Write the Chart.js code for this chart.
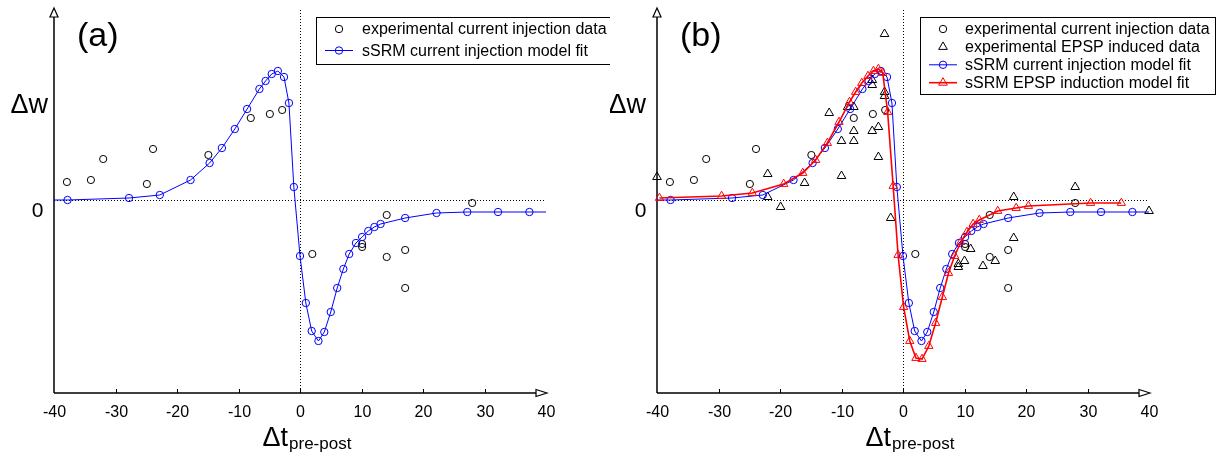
<!doctype html>
<html lang="en">
<head>
<meta charset="utf-8">
<title>sSRM model fits</title>
<style>
  html, body { margin: 0; padding: 0; background: #fff; overflow: hidden; }
  .panel { position: absolute; top: 0; }
</style>
</head>
<body>
<canvas id="chartA" class="panel" width="610" height="455" style="left:0px"></canvas>
<canvas id="chartB" class="panel" width="611" height="455" style="left:610px"></canvas>

<script src="https://cdn.jsdelivr.net/npm/chart.js"></script>
<script>
// ---- data ----
const xTicks = [-40, -30, -20, -10, 0, 10, 20, 30, 40];

// sSRM current injection model fit (first/last entries are line ends without marker)
const blueT = [-40, -37.8, -27.8, -22.8, -17.8, -14.7, -12.7, -10.6, -8.6, -6.6, -5.6, -4.6, -3.6, -2.6, -1.8, -1.0,
               0, 0.95, 1.9, 3.0, 3.95, 5.0, 6.05, 7.05, 8.0, 9.1, 10.1, 11.1, 12.1, 13.1, 17.1, 22.2, 27.2, 32.2, 37.3, 40];
const blueW = [0.00, 0.00, 0.02, 0.05, 0.20, 0.37, 0.52, 0.71, 0.91, 1.11, 1.19, 1.26, 1.29, 1.23, 0.97, 0.13,
               -0.56, -1.03, -1.31, -1.41, -1.32, -1.12, -0.88, -0.69, -0.54, -0.43, -0.37, -0.31, -0.27, -0.24, -0.18, -0.13, -0.12, -0.12, -0.12, -0.12];

// sSRM EPSP induction model fit
const redT = [-39.6, -29.5, -24.5, -19.4, -16.3, -14.2, -12.3, -10.4, -8.7, -7.7, -6.7, -5.7, -4.8, -4.0, -3.3, -2.5, -1.6, -0.8,
              0.1, 1.1, 2.1, 3.1, 4.2, 5.3, 6.4, 7.4, 8.4, 9.4, 10.4, 11.4, 12.4, 15.4, 18.4, 20.4, 30.5, 35.5];
const redW = [0.02, 0.04, 0.07, 0.16, 0.27, 0.40, 0.57, 0.78, 0.98, 1.08, 1.17, 1.24, 1.29, 1.31, 1.27, 0.88, 0.14, -0.55,
              -1.07, -1.41, -1.58, -1.59, -1.46, -1.23, -0.97, -0.73, -0.56, -0.42, -0.32, -0.24, -0.20, -0.11, -0.08, -0.06, -0.03, -0.03];

// experimental current injection data
const circT = [-37.9, -34.0, -32.0, -24.9, -23.9, -14.9, -8.0, -4.9, -2.9, 2.0, 10.1, 10.1, 14.1, 14.1, 17.1, 17.1, 28.0];
const circW = [0.18, 0.20, 0.41, 0.16, 0.51, 0.45, 0.82, 0.86, 0.90, -0.54, -0.44, -0.47, -0.15, -0.57, -0.50, -0.88, -0.03];

// experimental EPSP induced data
const triT = [-40, -22.0, -22.0, -19.9, -16.0, -12.0, -10.0, -10.0, -9.0, -8.0, -8.0, -8.0, -5.0, -5.0, -5.0, -4.0, -4.0,
              -3.0, -3.0, -3.0, -2.0, 9.0, 9.0, 10.0, 11.0, 13.0, 15.0, 18.0, 18.0, 28.0, 40.0];
const triW = [0.23, 0.26, 0.03, -0.07, 0.17, 0.87, 0.59, 0.24, 0.93, 0.93, 0.69, 0.59, 1.20, 1.15, 0.69, 0.73, 0.43,
              1.66, 1.08, 1.04, -0.18, -0.64, -0.67, -0.61, -0.49, -0.66, -0.61, -0.38, 0.03, 0.13, -0.11];

const legendLabels = ['experimental current injection data', 'experimental EPSP induced data',
                      'sSRM current injection model fit', 'sSRM EPSP induction model fit'];

const FONT = '"Liberation Sans", Arial, Helvetica, sans-serif';
const BLUE = '#0000ff', RED = '#ff0000';

function pts(xs, ys) { return xs.map((x, i) => ({ x: x, y: ys[i] })); }

// datasets
const circleSet = {
  label: legendLabels[0], data: pts(circT, circW), pointStyle: 'circle', pointRadius: 3.6,
  pointBorderColor: '#000', pointBackgroundColor: 'rgba(0,0,0,0)', pointBorderWidth: 1, order: 4, clip: false
};
const triangleSet = {
  label: legendLabels[1], data: pts(triT, triW), pointStyle: 'triangle', pointRadius: 5,
  pointBorderColor: '#000', pointBackgroundColor: 'rgba(0,0,0,0)', pointBorderWidth: 1, order: 3, clip: false
};
const blueSet = () => ({
  label: legendLabels[2], data: pts(blueT, blueW), showLine: true, borderColor: BLUE, borderWidth: 1,
  pointStyle: 'circle', pointRadius: (c) => (c.dataIndex === 0 || c.dataIndex === blueT.length - 1) ? 0 : 3.7,
  pointBorderColor: BLUE, pointBackgroundColor: 'rgba(0,0,0,0)', pointBorderWidth: 1, order: 2, clip: false
});
const redSet = {
  label: legendLabels[3], data: pts(redT, redW), showLine: true, borderColor: RED, borderWidth: 1.6,
  pointStyle: 'triangle', pointRadius: 4.8,
  pointBorderColor: RED, pointBackgroundColor: 'rgba(0,0,0,0)', pointBorderWidth: 1, order: 1, clip: false
};

function drawMarker(ctx, kind, x, y, color) {
  ctx.strokeStyle = color; ctx.lineWidth = 1;
  ctx.beginPath();
  if (kind === 'circle') {
    ctx.arc(x, y, 3.7, 0, Math.PI * 2);
  } else {
    const r = 5;
    ctx.moveTo(x, y - r);
    ctx.lineTo(x + r * 0.866, y + r * 0.5);
    ctx.lineTo(x - r * 0.866, y + r * 0.5);
    ctx.closePath();
  }
  ctx.stroke();
}

// axes, labels and legend drawn around the library's scales
function decor(cfg) {
  return {
    id: 'decor',
    beforeDatasetsDraw(chart) {
      const ctx = chart.ctx, xs = chart.scales.x, ys = chart.scales.y;
      const left = xs.left, right = xs.right, top = ys.top, bottom = ys.bottom;
      const x0 = Math.round(xs.getPixelForValue(0)) + 0.5;
      const y0 = Math.round(ys.getPixelForValue(0)) + 0.5;
      ctx.save();

      // dotted zero lines
      ctx.strokeStyle = '#000'; ctx.lineWidth = 1; ctx.setLineDash([1, 2]);
      ctx.beginPath();
      ctx.moveTo(left, y0); ctx.lineTo(right, y0);
      ctx.moveTo(x0, top + 2); ctx.lineTo(x0, bottom);
      ctx.stroke();
      ctx.setLineDash([]);

      // axis lines with open arrow heads
      ctx.lineWidth = 1.5;
      ctx.beginPath();
      ctx.moveTo(left, bottom); ctx.lineTo(left, top + 9);
      ctx.moveTo(left, bottom); ctx.lineTo(right - 10, bottom);
      ctx.stroke();
      ctx.lineWidth = 1.2;
      ctx.fillStyle = '#fff';
      ctx.beginPath();
      ctx.moveTo(left, top); ctx.lineTo(left + 4, top + 9); ctx.lineTo(left - 4, top + 9); ctx.closePath();
      ctx.fill(); ctx.stroke();
      ctx.beginPath();
      ctx.moveTo(right + 1, bottom); ctx.lineTo(right - 10, bottom - 3.5); ctx.lineTo(right - 10, bottom + 3.5); ctx.closePath();
      ctx.fill(); ctx.stroke();

      // ticks + tick labels
      ctx.fillStyle = '#000';
      ctx.lineWidth = 1;
      ctx.font = '16px ' + FONT;
      ctx.textAlign = 'center'; ctx.textBaseline = 'alphabetic';
      xTicks.forEach((v, i) => {
        const px = Math.round(xs.getPixelForValue(v)) + 0.5;
        if (i > 0 && i < xTicks.length - 1) {
          ctx.beginPath(); ctx.moveTo(px, bottom); ctx.lineTo(px, bottom - 4); ctx.stroke();
        }
        ctx.fillText(String(v), px, bottom + 24);
      });

      // y labels
      ctx.textAlign = 'right';
      ctx.font = '21px ' + FONT;
      ctx.fillText('0', left - 10.5, y0 + 16);
      ctx.font = '27px ' + FONT;
      ctx.fillText('\u0394w', left - cfg.wGap, 113);

      // x title with subscript
      ctx.textAlign = 'left';
      ctx.font = '27px ' + FONT;
      const tx = x0 - 38;
      ctx.fillText('\u0394t', tx, 446);
      const tw = ctx.measureText('\u0394t').width;
      ctx.font = '17px ' + FONT;
      ctx.fillText('pre-post', tx + tw + 1, 449);

      // panel letter
      ctx.font = '34px ' + FONT;
      ctx.fillText(cfg.letter, left + 23, 46);
      ctx.restore();
    },
    afterDatasetsDraw(chart) {
      const ctx = chart.ctx, L = cfg.legend;
      ctx.save();
      ctx.fillStyle = '#fff'; ctx.strokeStyle = '#000'; ctx.lineWidth = 1;
      ctx.fillRect(L.x, L.y, L.w, L.h);
      ctx.strokeRect(L.x + 0.5, L.y + 0.5, L.w, L.h);
      ctx.font = '16px ' + FONT;
      ctx.textAlign = 'left'; ctx.textBaseline = 'middle';
      L.items.forEach((it, i) => {
        const cy = L.row0 + i * L.gap;
        if (it.line) {
          ctx.strokeStyle = it.color; ctx.lineWidth = it.lw;
          ctx.beginPath(); ctx.moveTo(L.x + 9, cy); ctx.lineTo(L.x + 37, cy); ctx.stroke();
        }
        drawMarker(ctx, it.kind, L.x + 23, cy, it.color);
        ctx.fillStyle = '#000';
        ctx.fillText(it.label, L.x + L.tx, cy + 1);
      });
      ctx.restore();
    }
  };
}

function makeChart(id, datasets, cfg, pad) {
  return new Chart(document.getElementById(id), {
    type: 'scatter',
    data: { datasets: datasets },
    options: {
      responsive: false,
      animation: false,
      events: [],
      layout: { padding: pad },
      plugins: { legend: { display: false }, tooltip: { enabled: false } },
      scales: {
        x: { type: 'linear', min: -40, max: 40, display: false },
        y: { type: 'linear', min: -1.93, max: 1.92, display: false }
      }
    },
    plugins: [decor(cfg)]
  });
}

makeChart('chartA', [circleSet, blueSet()], {
  letter: '(a)', wGap: 6,
  legend: { x: 316, y: 17, w: 298, h: 47, row0: 29, gap: 21.5, tx: 46, items: [
    { label: legendLabels[0], kind: 'circle', color: '#000', line: false },
    { label: legendLabels[2], kind: 'circle', color: BLUE, line: true, lw: 1 }
  ] }
}, { left: 54, right: 64, top: 8, bottom: 62 });

makeChart('chartB', [Object.assign({}, circleSet, { data: pts(circT, circW) }), triangleSet, blueSet(), redSet], {
  letter: '(b)', wGap: 11,
  legend: { x: 310, y: 17, w: 295, h: 77, row0: 29, gap: 17.9, tx: 45, items: [
    { label: legendLabels[0], kind: 'circle', color: '#000', line: false },
    { label: legendLabels[1], kind: 'triangle', color: '#000', line: false },
    { label: legendLabels[2], kind: 'circle', color: BLUE, line: true, lw: 1 },
    { label: legendLabels[3], kind: 'triangle', color: RED, line: true, lw: 1.6 }
  ] }
}, { left: 47, right: 72, top: 8, bottom: 62 });
</script>
</body>
</html>
